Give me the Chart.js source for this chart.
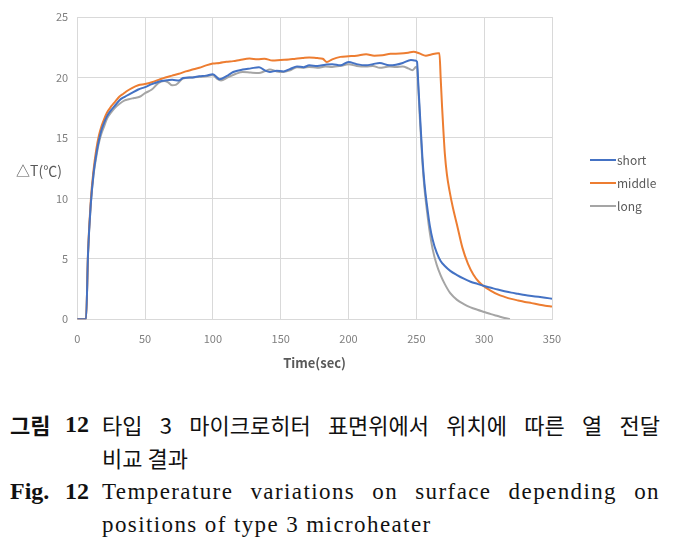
<!DOCTYPE html>
<html>
<head>
<meta charset="utf-8">
<script src="https://cdn.jsdelivr.net/npm/chart.js@4.4.1/dist/chart.umd.min.js"></script>
<style>
    body { margin: 0; background: #fff; }
    #wrap { position: relative; width: 678px; height: 544px; }
    #chartBox { position: absolute; left: 0; top: 0; width: 678px; height: 380px; }
    .cap { position: absolute; left: 10px; width: 650px; font-family: "Liberation Serif", "Noto Sans CJK KR", serif; font-size: 23px; letter-spacing: 1.4px; line-height: 33px; color: #111; }
    .cap .lab { position: absolute; left: 0; top: 0; width: 79px; display: flex; justify-content: space-between; font-weight: bold; font-size: 24px; letter-spacing: 0; }
    .cap .txt { margin-left: 92px; }
    .cap .full { text-align: justify; text-align-last: justify; }
    .kr { font-family: "Noto Sans CJK KR", sans-serif; font-size: 22px; letter-spacing: 0; }
</style>
</head>
<body>
<div id="wrap">
    <div id="chartBox"><canvas id="grafTemp" width="678" height="380"></canvas></div>

    <div class="cap" style="top: 408px;">
        <div class="lab"><span class="kr">그림</span><span>12</span></div>
        <div class="txt">
            <div class="full kr">타입 3 마이크로히터 표면위에서 위치에 따른 열 전달</div>
            <div class="kr">비교 결과</div>
        </div>
    </div>
    <div class="cap" style="top: 475px;">
        <div class="lab"><span>Fig.</span><span>12</span></div>
        <div class="txt">
            <div class="full">Temperature variations on surface depending on</div>
            <div>positions of type 3 microheater</div>
        </div>
    </div>
</div>

<script>
    // podaci ocitani sa slike (vrijeme u s, deltaT u °C)
    var shortTime = [0, 6.5, 8, 10, 12, 14, 16, 18, 20, 22, 25, 28, 31, 35, 40, 45, 50, 55, 60, 65, 70, 75, 78, 85, 90, 95, 100, 105, 110, 115, 122, 128, 134, 138, 142, 147, 152, 157, 162, 167, 171, 177, 183, 188, 194, 200, 206, 213, 218, 223, 230, 235, 240, 246, 249, 250.5, 251.5, 252.5, 254.5, 256, 258, 260, 262, 265, 268, 271, 275, 280, 285, 290, 295, 300, 305, 310, 315, 320, 325, 330, 335, 340, 345, 350];
    var shortTemp = [0, 0, 5.5, 9.5, 12.0, 13.6, 14.8, 15.7, 16.3, 16.8, 17.3, 17.7, 18.1, 18.4, 18.7, 19.0, 19.2, 19.45, 19.65, 19.75, 19.8, 19.75, 19.95, 20.0, 20.1, 20.15, 20.26, 19.85, 20.1, 20.45, 20.65, 20.75, 20.85, 20.6, 20.45, 20.55, 20.5, 20.7, 20.9, 20.85, 21.0, 20.95, 21.05, 21.1, 21.0, 21.28, 21.1, 21.0, 21.1, 21.2, 21.0, 21.05, 21.2, 21.45, 21.4, 21.3, 19.3, 17.3, 13.3, 11.2, 9.3, 7.7, 6.6, 5.5, 4.8, 4.4, 4.0, 3.65, 3.35, 3.1, 2.92, 2.75, 2.6, 2.45, 2.32, 2.2, 2.1, 2.0, 1.92, 1.85, 1.77, 1.7];

    var middleTime = [0, 6.5, 8, 10, 12, 14, 16, 18, 20, 22, 25, 28, 31, 34, 37, 40, 45, 50, 55, 60, 65, 70, 75, 80, 85, 90, 95, 100, 105, 110, 115, 120, 127, 133, 138, 144, 150, 156, 161, 166, 171, 177, 181, 184, 188, 194, 200, 206, 213, 219, 225, 231, 238, 244, 248, 252, 257, 261, 266, 267, 268, 269, 270, 271, 272.5, 274.5, 277, 280, 284, 288, 292, 296, 300, 305, 310, 315, 320, 325, 330, 335, 340, 345, 350];
    var middleTemp = [0, 0, 5.6, 9.8, 12.3, 14.0, 15.2, 16.0, 16.6, 17.1, 17.6, 18.0, 18.4, 18.65, 18.9, 19.1, 19.35, 19.45, 19.6, 19.8, 20.0, 20.15, 20.3, 20.5, 20.65, 20.8, 21.0, 21.15, 21.2, 21.3, 21.35, 21.45, 21.56, 21.5, 21.55, 21.4, 21.45, 21.48, 21.55, 21.6, 21.65, 21.6, 21.55, 21.28, 21.5, 21.7, 21.75, 21.8, 21.92, 21.8, 21.84, 21.95, 21.98, 22.05, 22.12, 22.0, 21.8, 21.9, 22.0, 22.0, 19.8, 17.5, 15.5, 13.7, 12.0, 10.6, 9.2, 7.8, 5.9, 4.6, 3.7, 3.1, 2.7, 2.35, 2.05, 1.85, 1.68, 1.55, 1.43, 1.33, 1.22, 1.12, 1.05];

    var longTime = [0, 6.5, 8, 10, 12, 14, 16, 18, 20, 22, 25, 28, 31, 35, 38, 42, 46, 50, 55, 60, 64, 67, 70, 73, 78, 85, 90, 95, 100, 103, 106, 111, 117, 122, 128, 134, 138, 142, 147, 152, 157, 162, 167, 171, 177, 183, 188, 194, 200, 206, 213, 218, 223, 230, 235, 240, 244, 247, 249.5, 250.5, 251.5, 252.5, 254.5, 256, 258, 260, 262, 265, 268, 271, 275, 280, 285, 290, 295, 300, 305, 310, 315, 319];
    var longTemp = [0, 0, 5.4, 9.5, 11.9, 13.4, 14.6, 15.4, 16.0, 16.6, 17.1, 17.5, 17.8, 18.1, 18.2, 18.3, 18.4, 18.7, 19.0, 19.55, 19.7, 19.6, 19.35, 19.4, 19.9, 20.0, 20.05, 20.1, 20.2, 19.9, 19.75, 20.0, 20.3, 20.45, 20.4, 20.37, 20.5, 20.65, 20.5, 20.45, 20.6, 20.85, 20.8, 20.87, 20.8, 20.9, 20.87, 20.95, 21.09, 20.95, 20.9, 20.95, 20.8, 20.9, 20.87, 20.9, 20.75, 20.6, 20.85, 20.9, 19.0, 16.8, 12.9, 10.8, 8.8, 7.1, 5.8, 4.5, 3.6, 2.9, 2.15, 1.6, 1.25, 0.98, 0.78, 0.6, 0.42, 0.26, 0.1, 0];

    var seriesNames = ["short", "middle", "long"];
    var seriesColors = ["#4472C4", "#ED7D31", "#A5A5A5"];

    function parovi(xs, ys) {
        return xs.map(function (x, i) { return { x: x, y: ys[i] }; });
    }

    var tekstBoja = "#595959";

    // legenda i naslov y osi kao u Excelu
    var dodaci = {
        id: 'dodaci',
        afterDraw: function (chart) {
            var ctx = chart.ctx;
            ctx.save();
            ctx.fillStyle = tekstBoja;
            ctx.font = "14px 'Noto Sans CJK KR'";
            ctx.textAlign = "center";
            ctx.textBaseline = "middle";
            ctx.fillText("△T(℃)", 39, 171);

            ctx.font = "12px 'Noto Sans CJK KR'";
            ctx.textAlign = "left";
            chart.data.datasets.forEach(function (ds, i) {
                var y = 160 + i * 23;
                ctx.strokeStyle = ds.borderColor;
                ctx.lineWidth = 2;
                ctx.beginPath();
                ctx.moveTo(590, y);
                ctx.lineTo(616, y);
                ctx.stroke();
                ctx.fillText(ds.label, 617, y);
            });
            ctx.restore();
        }
    };

    var ctxT = document.getElementById("grafTemp").getContext('2d');
    var grafik = new Chart(ctxT, {
        type: 'line',
        data: {
            datasets: [
                { label: seriesNames[0], data: parovi(shortTime, shortTemp), borderColor: seriesColors[0] },
                { label: seriesNames[1], data: parovi(middleTime, middleTemp), borderColor: seriesColors[1] },
                { label: seriesNames[2], data: parovi(longTime, longTemp), borderColor: seriesColors[2] }
            ]
        },
        options: {
            responsive: false,
            animation: false,
            layout: { padding: { left: 47, right: 126, top: 17, bottom: 9 } },
            elements: {
                point: { radius: 0 },
                line: { borderWidth: 2, cubicInterpolationMode: 'monotone', fill: false }
            },
            plugins: {
                legend: { display: false },
                tooltip: { enabled: false }
            },
            scales: {
                x: {
                    type: 'linear',
                    min: 0,
                    max: 350,
                    ticks: { stepSize: 50, padding: 13, color: "#7f7f7f", font: { family: "Noto Sans CJK KR", size: 11 } },
                    grid: { color: "#d9d9d9", drawTicks: false },
                    border: { color: "#d9d9d9" },
                    title: { display: true, text: "Time(sec)", color: tekstBoja, padding: { top: -3, bottom: 0 }, font: { family: "Noto Sans CJK KR", size: 13, weight: 'bold' } }
                },
                y: {
                    min: 0,
                    max: 25,
                    ticks: { stepSize: 5, padding: 9, color: "#7f7f7f", font: { family: "Noto Sans CJK KR", size: 11 } },
                    grid: { color: "#d9d9d9", drawTicks: false },
                    border: { display: false }
                }
            }
        },
        plugins: [dodaci]
    });
</script>
</body>
</html>
